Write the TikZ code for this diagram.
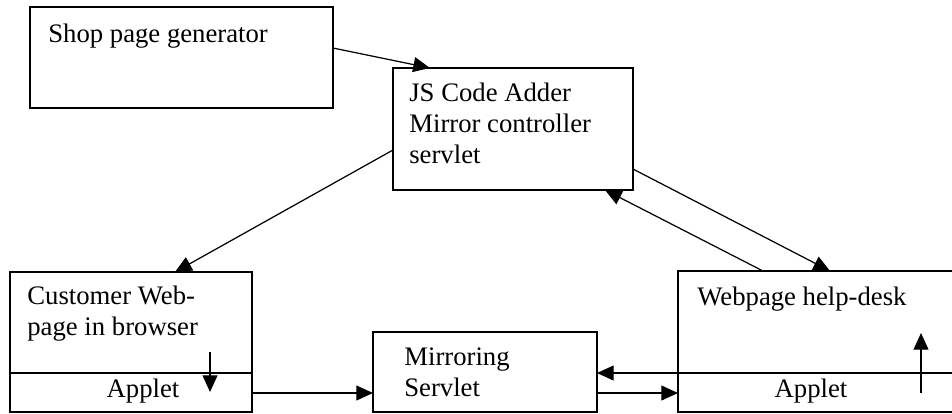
\documentclass[tikz,border=0pt]{standalone}
\usepackage{fontspec}
\setmainfont{Liberation Serif}
\usetikzlibrary{arrows.meta,positioning}

\tikzset{
  box/.style={draw, line width=0.7pt, anchor=north west, inner sep=0pt, outer sep=0pt},
  lbl/.style={anchor=base west, inner sep=0pt, align=left, font=\fontsize{15.2}{17.6}\selectfont},
  flow/.style={line width=0.7pt, -{Triangle[length=9.5pt,width=8.5pt]}},
}

\begin{document}
\begin{tikzpicture}[x=0.02cm,y=-0.02cm]
  \def\split{373};
  \def\lo{393};
  \clip (0,0) rectangle (952,413);
  % boxes
  \node[box, minimum width=6.06cm, minimum height=2.02cm] (shop) at (30,7) {};
  \node[box, minimum width=4.8cm, minimum height=2.44cm] (jsc) at (393,68) {};
  \node[box, minimum width=4.84cm, minimum height=2.8cm] (cust) at (10,272) {};
  \node[box, minimum width=4.48cm, minimum height=1.6cm] (mirror) at (373,332) {};
  \node[box, minimum width=5.8cm, minimum height=2.82cm] (help) at (678,271) {};
  \draw[line width=0.7pt] (cust.west |- 0,\split) -- (cust.east |- 0,\split);
  \draw[line width=0.7pt] (help.west |- 0,\split) -- (help.east |- 0,\split);
  % texts (base = last line)
  \node[lbl] (shoptxt) at (48,42) {Shop page generator};
  \node[lbl] (jsctxt) at (409,163) {JS Code Adder\\Mirror controller\\servlet};
  \node[lbl] (custtxt) at (27,335) {Customer Web-\\page in browser};
  \node[lbl] (mirrortxt) at (404,396) {Mirroring\\Servlet};
  \node[lbl] (helptxt) at (697,305) {Webpage help-desk};
  \node[lbl, anchor=base] (custapp) at (143,397) {Applet};
  \node[lbl, anchor=base] (helpapp) at (811,397) {Applet};
  % connectors
  \draw[flow] (shop.east |- 0,48) -- (jsc.north -| 430,0);
  \draw[flow] (jsc.west |- 0,150) -- (cust.north -| 175,0);
  \draw[flow] (jsc.east |- 0,169) -- (help.north -| 830,0);
  \draw[flow] (help.north -| 763,0) -- (jsc.south -| 605,0);
  \draw[flow] (210,352) -- (210,392);
  \draw[flow] (cust.east |- 0,\lo) -- (mirror.west |- 0,\lo);
  \draw[flow] (698,\split) -- (mirror.east |- 0,\split);
  \draw[flow] (mirror.east |- 0,\lo) -- (help.west |- 0,\lo);
  \draw[flow] (921,\lo) -- (921,333);
\end{tikzpicture}
\end{document}
